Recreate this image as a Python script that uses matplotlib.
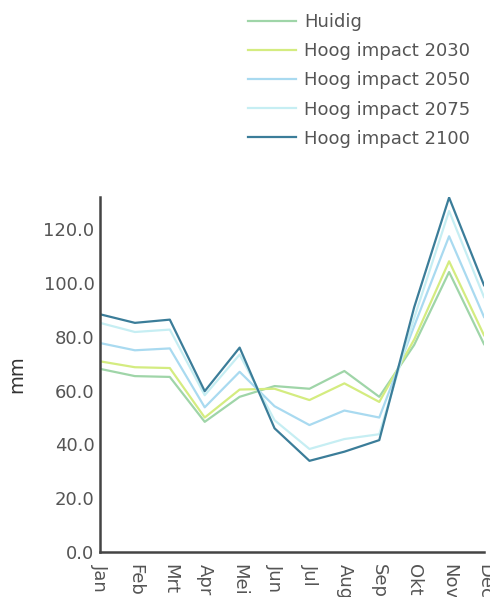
import numpy as np
import matplotlib
matplotlib.use('Agg')
from matplotlib import pyplot as plt

# maanden en neerslag (mm) per scenario
maanden = ['Jan', 'Feb', 'Mrt', 'Apr', 'Mei', 'Jun', 'Jul', 'Aug', 'Sep', 'Okt', 'Nov', 'Dec']
huidig  = [68.1, 65.4, 65.1, 48.4, 57.7, 61.7, 60.7, 67.3, 57.7, 77.0, 104.1, 77.3]
hi2030  = [70.9, 68.7, 68.4, 50.0, 60.4, 60.7, 56.5, 62.7, 55.8, 79.0, 108.1, 80.6]
hi2050  = [77.7, 75.0, 75.7, 53.8, 67.0, 54.2, 47.2, 52.6, 50.0, 84.0, 117.4, 87.4]
hi2075  = [85.2, 81.8, 82.7, 58.3, 73.4, 49.0, 38.3, 42.0, 43.8, 87.0, 126.8, 94.8]
hi2100  = [88.4, 85.2, 86.4, 59.8, 76.0, 46.0, 33.9, 37.3, 41.6, 91.0, 131.8, 99.2]

labels = ['Huidig', 'Hoog impact 2030', 'Hoog impact 2050', 'Hoog impact 2075', 'Hoog impact 2100']
colors = ['#9fd5a8', '#d4ec80', '#a9daf0', '#c6eef3', '#3b7d99']
series = [huidig, hi2030, hi2050, hi2075, hi2100]

plt.rcParams['font.family'] = ['DejaVu Sans']

fig = plt.figure(figsize=(4.9, 5.97), dpi=100)
ax = fig.add_axes([100/490, 1 - 552/597, 384/490, (552 - 197)/597])

x = np.arange(len(maanden))
for vals, lab, col in zip(series, labels, colors):
	ax.plot(x, vals, color=col, lw=1.6, label=lab)

ax.set_xlim(0, 11)
ax.set_ylim(0, 132)
ax.set_yticks(np.arange(0, 121, 20))
ax.set_yticklabels(['%.1f' % v for v in np.arange(0, 121, 20)])
ax.set_xticks(x)
ax.set_xticklabels(maanden, rotation=-90)
ax.tick_params(length=0, labelsize=13, labelcolor='#555555')
ax.tick_params(axis='x', pad=9)
ax.tick_params(axis='y', pad=4)
for s in ['top', 'right']:
	ax.spines[s].set_visible(False)
for s in ['left', 'bottom']:
	ax.spines[s].set_color('#444444')
	ax.spines[s].set_linewidth(1.8)
ax.set_ylabel('mm', fontsize=14, color='#333333', labelpad=12)

fig.legend(loc='upper left', bbox_to_anchor=(248/490, 1 - 13/597), frameon=False,
	fontsize=13, handlelength=2.66, handletextpad=0.45, labelspacing=0.62,
	borderpad=0, borderaxespad=0, labelcolor='#555555')

fig.savefig('out.png', dpi=100)
